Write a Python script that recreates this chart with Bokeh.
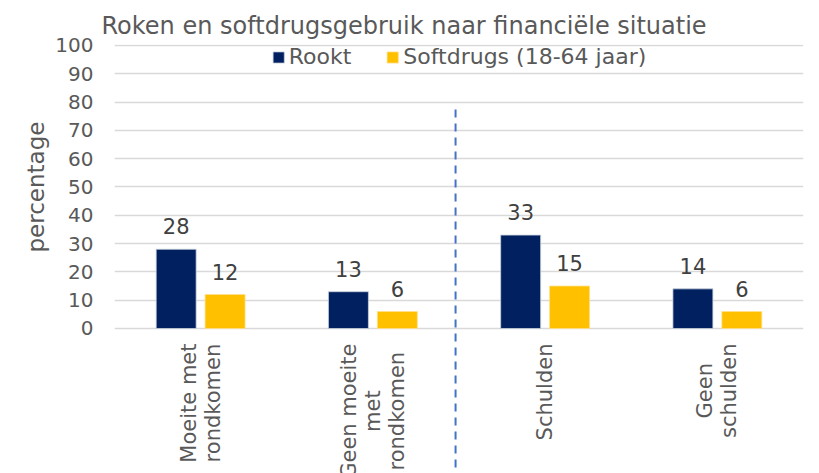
import math
from bokeh.plotting import figure
from bokeh.models import Range1d, FixedTicker, ColumnDataSource, Legend, LegendItem, Title
from bokeh.core.properties import value
from bokeh.embed import file_html
from bokeh.resources import INLINE

# ---- data ----
categories = ["Moeite met\nrondkomen", "Geen moeite\nmet\nrondkomen", "Schulden", "Geen\nschulden"]
rookt = [28, 13, 33, 14]
softdrugs = [12, 6, 15, 6]
series_names = ["Rookt", "Softdrugs (18-64 jaar)"]
y_ticks = [0, 10, 20, 30, 40, 50, 60, 70, 80, 90, 100]
title_text = "Roken en softdrugsgebruik naar financiële situatie"
y_label = "percentage"
divider_after = 2  # dashed divider between 2nd and 3rd category

# ---- style ----
FONT = "DejaVu Sans"
NAVY = "#002060"
GOLD = "#FFC000"
GRAY = "#595959"
DARK = "#404040"
GRID = "#D9D9D9"

n = len(categories)
centers = [i + 0.5 for i in range(n)]
off = 0.142
bw = 0.232
Y_TOP = 100.35
Y_BOT = -51.24

p = figure(width=819, height=473, output_backend="svg", toolbar_location=None,
           x_range=Range1d(0, n), y_range=Range1d(Y_BOT, Y_TOP),
           min_border_left=114, min_border_right=16, min_border_top=44, min_border_bottom=0)
p.outline_line_color = None
p.background_fill_color = "white"
p.border_fill_color = "white"

p.title.text = title_text
p.title.text_font = FONT
p.title.text_font_size = "24px"
p.title.text_font_style = "normal"
p.title.text_color = GRAY
p.title.align = "left"
p.title.offset = -13
p.title.standoff = 10

# axes
p.xaxis.visible = False
yax = p.yaxis[0]
yax.ticker = FixedTicker(ticks=y_ticks)
yax.axis_line_color = None
yax.major_tick_line_color = None
yax.minor_tick_line_color = None
yax.major_tick_out = 0
yax.major_tick_in = 0
yax.major_label_standoff = 21
yax.major_label_text_font = FONT
yax.major_label_text_font_size = "20px"
yax.major_label_text_color = GRAY

# y-axis title, placed along the 0-100 part of the axis
ytitle = Title(text=y_label, align="left", offset=221, standoff=8,
               text_font=FONT, text_font_size="23px", text_font_style="normal",
               text_color=GRAY)
p.add_layout(ytitle, "left")

p.xgrid.visible = False
p.ygrid.ticker = FixedTicker(ticks=y_ticks)
p.ygrid.grid_line_color = GRID
p.ygrid.grid_line_width = 1.5

# bars
src = ColumnDataSource(dict(
    x1=[c - off for c in centers], x2=[c + off for c in centers],
    rookt=rookt, soft=softdrugs,
    l1=[str(v) for v in rookt], l2=[str(v) for v in softdrugs],
))
r1 = p.vbar(x="x1", top="rookt", bottom=0, width=bw, source=src, fill_color=NAVY,
            line_color="#C9D0DC", line_width=0.8)
r2 = p.vbar(x="x2", top="soft", bottom=0, width=bw, source=src, fill_color=GOLD,
            line_color="#FFE08A", line_width=0.8)

# value labels
for xcol, ycol, lcol in (("x1", "rookt", "l1"), ("x2", "soft", "l2")):
    p.text(x=xcol, y=ycol, text=lcol, source=src, text_align="center", text_baseline="bottom",
           y_offset=-15, text_font=value(FONT), text_font_size="21px", text_color=DARK)

# category labels (rotated, multi-line)
lab = ColumnDataSource(dict(x=centers, y=[0] * n, t=categories))
p.text(x="x", y="y", text="t", source=lab, angle=math.pi / 2, anchor="center_right",
       text_align="center", y_offset=15, text_font=value(FONT), text_font_size="21px",
       text_color=GRAY, text_line_height=1.0)

# dashed divider
p.segment(x0=[divider_after - 0.02], x1=[divider_after - 0.02], y0=[77.4], y1=[Y_BOT],
          line_color="#4472C4", line_width=2, line_dash="8 6")

# legend
legend = Legend(items=[LegendItem(label=series_names[0], renderers=[r1]),
                       LegendItem(label=series_names[1], renderers=[r2])],
                orientation="horizontal", location="top_center",
                glyph_width=14, glyph_height=14, label_standoff=4, spacing=34,
                margin=0, padding=0, border_line_color=None, background_fill_alpha=0,
                label_text_font=FONT, label_text_font_size="22px", label_text_color=GRAY)
p.add_layout(legend, "center")

open("out.html", "w").write(file_html(p, INLINE))
